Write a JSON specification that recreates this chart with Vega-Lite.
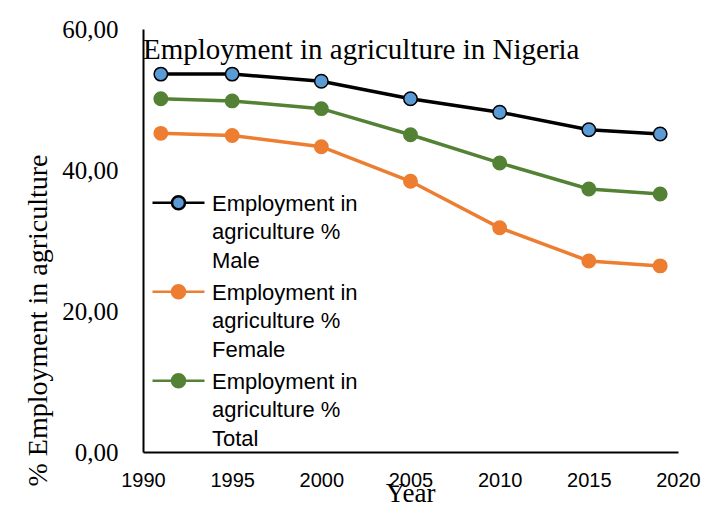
{
  "$schema": "https://vega.github.io/schema/vega-lite/v6.json",
  "width": 535,
  "height": 423,
  "autosize": "none",
  "padding": {"left": 143, "top": 29, "right": 33, "bottom": 53},
  "background": "white",
  "title": {
    "text": "Employment in agriculture in Nigeria",
    "anchor": "start",
    "frame": "group",
    "offset": 0,
    "baseline": "alphabetic",
    "dy": 71,
    "font": "Liberation Serif",
    "fontSize": 29,
    "fontWeight": "normal",
    "color": "black"
  },
  "data": {
    "values": [
      {"year": 1991, "series": "Male", "value": 53.6},
      {"year": 1995, "series": "Male", "value": 53.6},
      {"year": 2000, "series": "Male", "value": 52.6},
      {"year": 2005, "series": "Male", "value": 50.1},
      {"year": 2010, "series": "Male", "value": 48.2},
      {"year": 2015, "series": "Male", "value": 45.7},
      {"year": 2019, "series": "Male", "value": 45.1},
      {"year": 1991, "series": "Female", "value": 45.2},
      {"year": 1995, "series": "Female", "value": 44.9},
      {"year": 2000, "series": "Female", "value": 43.3},
      {"year": 2005, "series": "Female", "value": 38.4},
      {"year": 2010, "series": "Female", "value": 31.8},
      {"year": 2015, "series": "Female", "value": 27.1},
      {"year": 2019, "series": "Female", "value": 26.4},
      {"year": 1991, "series": "Total", "value": 50.1},
      {"year": 1995, "series": "Total", "value": 49.8},
      {"year": 2000, "series": "Total", "value": 48.7},
      {"year": 2005, "series": "Total", "value": 45.0},
      {"year": 2010, "series": "Total", "value": 41.0},
      {"year": 2015, "series": "Total", "value": 37.3},
      {"year": 2019, "series": "Total", "value": 36.6}
    ]
  },
  "encoding": {
    "x": {
      "field": "year",
      "type": "quantitative",
      "scale": {"domain": [1990, 2020], "nice": false, "zero": false},
      "axis": {
        "values": [1990, 1995, 2000, 2005, 2010, 2015, 2020],
        "format": "d",
        "title": "Year",
        "grid": false,
        "ticks": false,
        "tickSize": 0,
        "domainColor": "black",
        "domainWidth": 2,
        "labelFont": "Liberation Sans",
        "labelFontSize": 20,
        "labelColor": "black",
        "labelPadding": 18,
        "labelBaseline": "top",
        "labelFlush": false,
        "titleFont": "Liberation Serif",
        "titleFontSize": 27,
        "titleFontWeight": "normal",
        "titleColor": "black",
        "titleX": 267,
        "titleY": 41,
        "titleBaseline": "middle",
        "titleAlign": "center"
      }
    },
    "y": {
      "field": "value",
      "type": "quantitative",
      "scale": {"domain": [0, 60], "nice": false},
      "axis": {
        "values": [0, 20, 40, 60],
        "labelExpr": "replace(format(datum.value, '.2f'), '.', ',')",
        "title": "% Employment in agriculture",
        "grid": false,
        "ticks": false,
        "tickSize": 0,
        "domainColor": "black",
        "domainWidth": 2,
        "labelFont": "Liberation Serif",
        "labelFontSize": 25,
        "labelColor": "black",
        "labelPadding": 25,
        "labelFlush": false,
        "titleFont": "Liberation Serif",
        "titleFontSize": 28,
        "titleFontWeight": "normal",
        "titleColor": "black",
        "titleAngle": 270,
        "titleX": -105,
        "titleY": 291,
        "titleAlign": "center",
        "titleBaseline": "middle"
      }
    }
  },
  "layer": [
    {
      "mark": {"type": "line", "strokeWidth": 3.5},
      "encoding": {
        "stroke": {
          "field": "series",
          "type": "nominal",
          "scale": {"domain": ["Male", "Female", "Total"], "range": ["#000000", "#ED7D31", "#548235"]},
          "legend": {
            "labelExpr": "['Employment in', 'agriculture %', datum.label]",
            "labelBaseline": "alphabetic",
            "encode": {
              "labels": {"update": {"lineHeight": {"value": 28.5}}}
            }
          }
        }
      }
    },
    {
      "mark": {"type": "point", "filled": true, "size": 180, "strokeWidth": 1.5, "opacity": 1},
      "encoding": {
        "fill": {
          "field": "series",
          "type": "nominal",
          "scale": {"domain": ["Male", "Female", "Total"], "range": ["#5B9BD5", "#ED7D31", "#548235"]}
        },
        "stroke": {
          "field": "series",
          "type": "nominal"
        }
      }
    }
  ],
  "config": {
    "view": {"stroke": null},
    "line": {"strokeCap": "butt"},
    "legend": {
      "title": null,
      "orient": "none",
      "legendX": 8,
      "legendY": 154,
      "padding": 0,
      "symbolType": "M-1,-0.3L-0.25,-0.3M0.25,-0.3L1,-0.3M0.25,-0.3A0.25,0.25,0,1,1,-0.25,-0.3A0.25,0.25,0,1,1,0.25,-0.3Z",
      "symbolSize": 2704,
      "symbolStrokeWidth": 2.5,
      "labelOffset": 6,
      "labelFont": "Liberation Sans",
      "labelFontSize": 22,
      "labelColor": "black",
      "labelLimit": 300,
      "rowPadding": 0
    }
  }
}
